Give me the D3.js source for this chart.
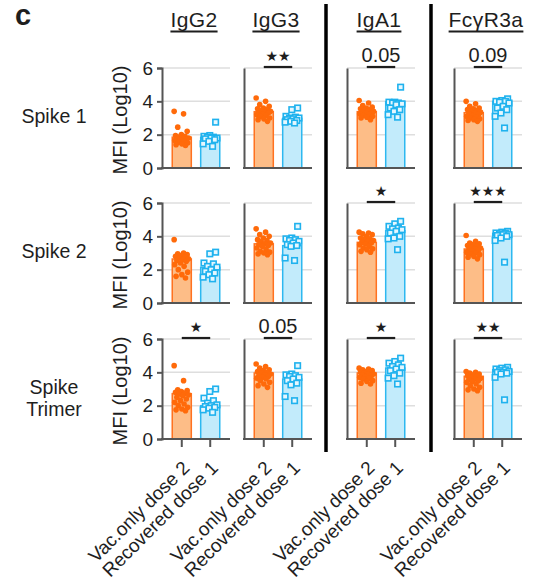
<!DOCTYPE html>
<meta charset='utf-8'>
<style>
body { margin: 0; background: #fff; }
text { font-family: Arial, 'Liberation Sans', sans-serif; fill: #1e1e1e; }
.grid line { stroke: #dedede; stroke-width: 1.5px; }
.axis path, .axis line { stroke: #555; stroke-width: 2px; }
.axis text { font-size: 19px; fill: #1e1e1e; }
</style>
<svg width='539' height='586'></svg>
<script src='https://d3js.org/d3.v7.min.js'></script>
<script>

// ---- data ----
var rows = ['Spike 1', 'Spike 2', 'Spike Trimer'];
var antigens = ['IgG2', 'IgG3', 'IgA1', 'FcγR3a'];
var groups = ['Vac.only dose 2', 'Recovered dose 1'];
var yTicks = [0, 2, 4, 6];

// bar heights, [row][antigen]
var vacBars = [[1.85, 3.38, 3.38, 3.32], [2.64, 3.55, 3.64, 3.24], [2.72, 3.96, 3.96, 3.76]];
var recBars = [[1.84, 2.98, 3.98, 4.00], [2.14, 3.44, 4.34, 4.18], [2.00, 3.60, 4.26, 4.16]];

// significance, [row][antigen]
var sigLabels = [['', '**', '0.05', '0.09'], ['', '', '*', '***'], ['*', '0.05', '*', '**']];

// individual points, [antigen][values]
var vacSpike1 = [
  [3.4, 3.25, 2.45, 2.2, 2.0, 1.95, 1.9, 1.85, 1.8, 1.8, 1.75, 1.7, 1.7, 1.65, 1.6, 1.55, 1.5, 1.45, 1.4, 1.35],
  [4.2, 4.0, 3.8, 3.7, 3.6, 3.55, 3.5, 3.45, 3.4, 3.35, 3.3, 3.3, 3.25, 3.2, 3.15, 3.1, 3.0, 2.95, 2.9, 2.8],
  [4.05, 3.9, 3.75, 3.65, 3.6, 3.55, 3.5, 3.45, 3.4, 3.4, 3.35, 3.3, 3.3, 3.25, 3.2, 3.15, 3.1, 3.05, 3.0, 2.9],
  [4.0, 3.85, 3.7, 3.6, 3.55, 3.5, 3.45, 3.4, 3.35, 3.3, 3.25, 3.2, 3.15, 3.1, 3.05, 3.0, 2.95, 2.9, 2.85, 2.8]
];
var recSpike1 = [
  [2.75, 1.95, 1.9, 1.85, 1.85, 1.8, 1.8, 1.75, 1.7, 1.6, 1.45, 1.3],
  [3.6, 3.5, 3.1, 3.05, 3.0, 3.0, 2.95, 2.9, 2.85, 2.8, 2.75, 2.7],
  [4.85, 3.95, 3.95, 3.9, 3.9, 3.85, 3.8, 3.6, 3.5, 3.4, 3.2, 3.05],
  [4.15, 4.05, 4.0, 4.0, 3.95, 3.9, 3.7, 3.6, 3.5, 3.3, 3.1, 2.4]
];
var vacSpike2 = [
  [3.8, 3.0, 2.95, 2.9, 2.85, 2.8, 2.75, 2.7, 2.65, 2.6, 2.55, 2.5, 2.4, 2.3, 2.2, 2.0, 1.85, 1.7, 1.6, 1.5],
  [4.45, 4.25, 4.1, 4.0, 3.9, 3.8, 3.75, 3.7, 3.6, 3.55, 3.5, 3.45, 3.4, 3.3, 3.2, 3.1, 3.05, 3.0, 2.95, 2.9],
  [4.25, 4.2, 4.15, 4.1, 4.0, 3.9, 3.85, 3.8, 3.75, 3.7, 3.65, 3.6, 3.55, 3.5, 3.4, 3.3, 3.25, 3.2, 3.1, 3.05],
  [4.05, 3.7, 3.6, 3.55, 3.5, 3.45, 3.4, 3.35, 3.3, 3.25, 3.2, 3.15, 3.1, 3.05, 3.0, 2.95, 2.9, 2.8, 2.75, 2.65]
];
var recSpike2 = [
  [3.05, 2.95, 2.4, 2.35, 2.2, 2.15, 2.0, 1.9, 1.8, 1.7, 1.55, 1.45],
  [4.6, 3.9, 3.85, 3.8, 3.75, 3.7, 3.6, 3.5, 3.45, 3.4, 2.7, 2.55],
  [4.9, 4.75, 4.6, 4.5, 4.45, 4.4, 4.3, 4.2, 4.0, 3.9, 3.85, 3.2],
  [4.3, 4.25, 4.2, 4.2, 4.15, 4.1, 4.1, 4.05, 4.0, 3.9, 3.75, 2.45]
];
var vacTrimer = [
  [4.4, 3.5, 2.95, 2.9, 2.85, 2.8, 2.75, 2.7, 2.65, 2.6, 2.5, 2.4, 2.3, 2.2, 2.1, 2.0, 1.9, 1.8, 1.75, 1.7],
  [4.5, 4.35, 4.25, 4.15, 4.1, 4.05, 4.0, 3.95, 3.9, 3.85, 3.8, 3.75, 3.7, 3.65, 3.6, 3.5, 3.4, 3.3, 3.2, 3.1],
  [4.25, 4.2, 4.15, 4.1, 4.05, 4.0, 4.0, 3.95, 3.9, 3.9, 3.85, 3.8, 3.75, 3.7, 3.65, 3.6, 3.5, 3.45, 3.35, 3.3],
  [4.05, 4.0, 3.95, 3.9, 3.85, 3.8, 3.75, 3.7, 3.65, 3.6, 3.55, 3.5, 3.45, 3.4, 3.3, 3.2, 3.1, 3.0, 2.95, 2.9]
];
var recTrimer = [
  [3.0, 2.85, 2.45, 2.3, 2.15, 2.05, 2.0, 1.95, 1.9, 1.85, 1.75, 1.6],
  [4.4, 3.9, 3.85, 3.8, 3.75, 3.7, 3.6, 3.5, 3.35, 3.25, 2.55, 2.3],
  [4.85, 4.65, 4.55, 4.45, 4.35, 4.3, 4.2, 4.1, 3.95, 3.8, 3.65, 3.3],
  [4.3, 4.25, 4.2, 4.15, 4.1, 4.05, 4.0, 4.0, 3.95, 3.9, 3.7, 2.35]
];

var vacPoints = [vacSpike1, vacSpike2, vacTrimer];
var recPoints = [recSpike1, recSpike2, recTrimer];

// ---- layout ----
var svg = d3.select('svg');
var colX = [162, 244, 347, 454],
    rowY = [68, 203, 339],
    pw = 68, ph = 100;

var orange = { fill: '#fdbd87', stroke: '#ff7220', dot: '#ff6a0a' },
    blue = { fill: '#c2ebfb', stroke: '#2db8f0', dot: '#1fb2ee' };

var x = d3.scaleBand().domain(groups).range([0, pw]).paddingInner(0.33).paddingOuter(0.36),
    y = d3.scaleLinear().domain([0, 6]).range([ph, 0]),
    bw = x.bandwidth();

// fixed spread pattern for the scatter so points don't sit on one line
function spread(i) {
  var f = ((i * 0.618034) % 1) - 0.5;
  return f * bw * 0.8;
}

// panel label
svg.append('text')
  .attr('x', 15).attr('y', 25)
  .style('font-size', '29px').style('font-weight', 'bold')
  .text('c');

// column headers, underlined
antigens.forEach(function(name, c) {
  var t = svg.append('text')
    .attr('x', colX[c] + pw / 2 - 2).attr('y', 27)
    .attr('text-anchor', 'middle')
    .style('font-size', '21px')
    .style('letter-spacing', '0.4px')
    .text(name);
  var b = t.node().getBBox();
  svg.append('line')
    .attr('x1', b.x).attr('x2', b.x + b.width)
    .attr('y1', 31.5).attr('y2', 31.5)
    .attr('stroke', '#1e1e1e').attr('stroke-width', 2);
});

// heavy separators
[326, 431].forEach(function(sx) {
  svg.append('line')
    .attr('x1', sx).attr('x2', sx)
    .attr('y1', 4).attr('y2', 452)
    .attr('stroke', '#000').attr('stroke-width', 3.5);
});

rows.forEach(function(rowName, r) {
  // row label
  var lbl = svg.append('text')
    .attr('text-anchor', 'middle')
    .style('font-size', '19.5px');
  var words = rowName === 'Spike Trimer' ? ['Spike', 'Trimer'] : [rowName];
  words.forEach(function(w, k) {
    lbl.append('tspan')
      .attr('x', 54)
      .attr('y', rowY[r] + (words.length > 1 ? 55 + k * 22 : 55))
      .text(w);
  });

  // y title
  svg.append('text')
    .attr('transform', 'translate(127,' + (rowY[r] + 52) + ') rotate(-90)')
    .attr('text-anchor', 'middle')
    .style('font-size', '20px')
    .text('MFI (Log10)');

  antigens.forEach(function(name, c) {
    var g = svg.append('g')
      .attr('transform', 'translate(' + colX[c] + ',' + rowY[r] + ')');

    // gridlines
    g.append('g').attr('class', 'grid')
      .selectAll('line')
      .data(yTicks.filter(function(t) { return t > 0; }))
      .enter().append('line')
        .attr('x1', 0).attr('x2', pw)
        .attr('y1', function(d) { return y(d); })
        .attr('y2', function(d) { return y(d); });

    var bars = [vacBars[r][c], recBars[r][c]];
    var pal = [orange, blue];

    g.selectAll('.bar')
      .data(groups)
      .enter().append('rect')
        .attr('class', 'bar')
        .attr('x', function(d) { return x(d); })
        .attr('width', bw)
        .attr('y', function(d, i) { return y(bars[i]); })
        .attr('height', function(d, i) { return ph - y(bars[i]); })
        .attr('fill', function(d, i) { return pal[i].fill; })
        .attr('stroke', function(d, i) { return pal[i].stroke; })
        .attr('stroke-width', 1.5);

    // vaccinated-only points
    var cx0 = x(groups[0]) + bw / 2;
    g.selectAll('.dot')
      .data(vacPoints[r][c])
      .enter().append('circle')
        .attr('class', 'dot')
        .attr('cx', function(d, i) { return cx0 + spread(i); })
        .attr('cy', function(d) { return y(d); })
        .attr('r', 2.8)
        .attr('fill', orange.dot);

    // recovered points
    var cx1 = x(groups[1]) + bw / 2;
    g.selectAll('.sq')
      .data(recPoints[r][c])
      .enter().append('rect')
        .attr('class', 'sq')
        .attr('x', function(d, i) { return cx1 + spread(i + 3) - 2.75; })
        .attr('y', function(d) { return y(d) - 2.75; })
        .attr('width', 5.5).attr('height', 5.5)
        .attr('fill', '#e6f7fe')
        .attr('stroke', blue.dot)
        .attr('stroke-width', 1.6);

    // axes
    var ya = d3.axisLeft(y).tickValues(yTicks).tickFormat(d3.format('d'))
      .tickSizeOuter(0).tickSize(c === 0 ? 5 : 0).tickPadding(4);
    var yg = g.append('g').attr('class', 'axis').call(ya);
    if (c !== 0) yg.selectAll('text').remove();

    var xa = d3.axisBottom(x).tickSizeOuter(0).tickSize(r === rows.length - 1 ? 8 : 0);
    var xg = g.append('g').attr('class', 'axis')
      .attr('transform', 'translate(0,' + ph + ')')
      .call(xa);
    xg.select('.domain').attr('d', 'M-1,0H' + pw);
    if (r === rows.length - 1) {
      xg.selectAll('text')
        .attr('x', 0).attr('y', 0).attr('dy', 0)
        .attr('text-anchor', 'end')
        .attr('transform', 'translate(9,30) rotate(-45)');
    } else {
      xg.selectAll('text').remove();
    }

    // significance bracket
    var s = sigLabels[r][c];
    if (s) {
      g.append('line')
        .attr('x1', cx0).attr('x2', cx1)
        .attr('y1', -1).attr('y2', -1)
        .attr('stroke', '#1e1e1e').attr('stroke-width', 2.2);
      var isStar = s.indexOf('*') >= 0;
      g.append('text')
        .attr('x', (cx0 + cx1) / 2)
        .attr('y', isStar ? -7 : -6)
        .attr('text-anchor', 'middle')
        .style('font-size', isStar ? '14px' : '20px')
        .style('font-family', isStar ? 'DejaVu Sans' : null)
        .text(isStar ? s.replace(/\*/g, '★') : s);
    }
  });
});

</script>
